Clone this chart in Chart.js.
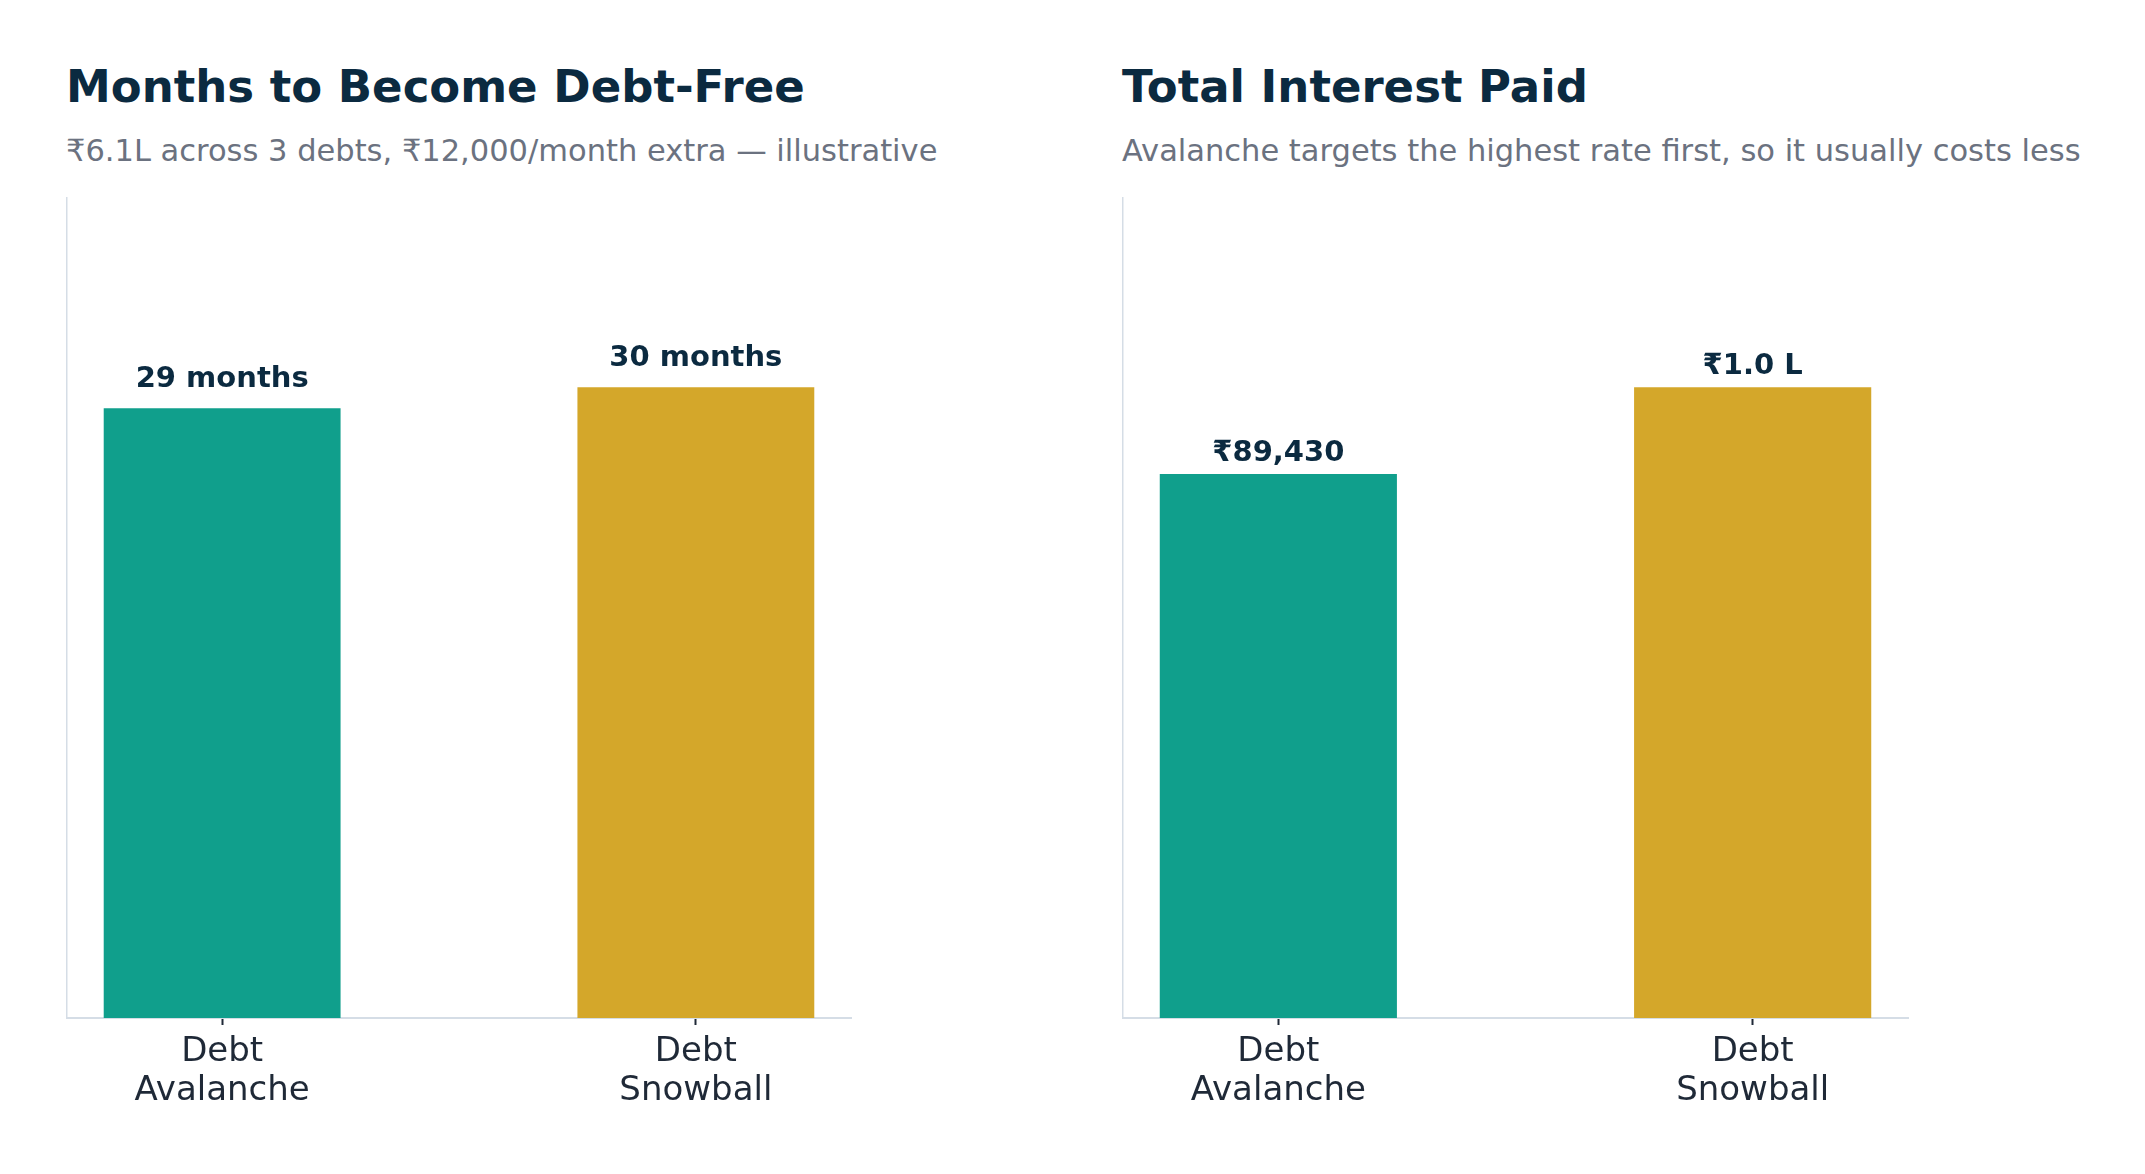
<!DOCTYPE html>
<html>
<head>
<meta charset="utf-8">
<script src="https://cdn.jsdelivr.net/npm/chart.js@4.4.1/dist/chart.umd.min.js"></script>
<style>
  html, body { margin: 0; padding: 0; background: #ffffff; }
  body { width: 2145px; height: 1174px; position: relative; overflow: hidden; font-family: "DejaVu Sans", sans-serif; }
  .title { position: absolute; font-size: 45px; font-weight: bold; line-height: 45px; color: #0b2a40; white-space: nowrap; }
  .sub { position: absolute; font-size: 30.5px; line-height: 30.5px; color: #6b7280; white-space: nowrap; }
  .box { position: absolute; top: 190px; height: 984px; }
</style>
</head>
<body>
<div class="title" style="left:66px; top:64px;">Months to Become Debt-Free</div>
<div class="sub" style="left:66px; top:136px;">₹6.1L across 3 debts, ₹12,000/month extra — illustrative</div>
<div class="title" style="left:1122px; top:64px;">Total Interest Paid</div>
<div class="sub" style="left:1122px; top:136px;">Avalanche targets the highest rate first, so it usually costs less</div>

<div class="box" style="left:66px; width:786px;"><canvas id="monthsChart"></canvas></div>
<div class="box" style="left:1122px; width:787px;"><canvas id="interestChart"></canvas></div>

<script>
// data
const categories = [['Debt', 'Avalanche'], ['Debt', 'Snowball']];
const monthsToFree = [29, 30];
const interestPaid = [89430, 103700];
const barColors = ['#109f8c', '#d4a72a'];

function monthsLabel(v) {
  return v + ' months';
}

function rupeeLabel(v) {
  if (v >= 100000) return '₹' + (v / 100000).toFixed(1) + ' L';
  return '₹' + v.toLocaleString('en-IN');
}

// draws the value above each bar
const valueLabels = {
  id: 'valueLabels',
  afterDatasetsDraw(chart, args, opts) {
    const ctx = chart.ctx;
    const meta = chart.getDatasetMeta(0);
    const values = chart.data.datasets[0].data;
    ctx.save();
    ctx.font = 'bold 29px "DejaVu Sans"';
    ctx.fillStyle = '#0b2a40';
    ctx.textAlign = 'center';
    ctx.textBaseline = 'alphabetic';
    meta.data.forEach(function (bar, i) {
      ctx.fillText(opts.format(values[i].y), bar.x, bar.y - opts.gap);
    });
    ctx.restore();
  }
};

function makeChart(id, values, fmt, gap) {
  const ctx = document.getElementById(id).getContext('2d');
  return new Chart(ctx, {
    type: 'bar',
    data: {
      datasets: [{
        data: values.map(function (v, i) { return { x: i, y: v }; }),
        backgroundColor: barColors,
        borderWidth: 0,
        barPercentage: 0.5,
        categoryPercentage: 1
      }]
    },
    options: {
      responsive: true,
      maintainAspectRatio: false,
      animation: false,
      layout: { padding: { left: 1, right: 1, top: 8, bottom: 0 } },
      plugins: {
        legend: { display: false },
        tooltip: { enabled: false },
        valueLabels: { format: fmt, gap: gap }
      },
      scales: {
        x: {
          type: 'linear',
          offset: false,
          min: -0.3275,
          max: 1.3275,
          afterBuildTicks: function (scale) {
            scale.ticks = categories.map(function (c, i) { return { value: i }; });
          },
          afterFit: function (scale) { scale.height = 156; },
          grid: { display: true, drawOnChartArea: false, drawTicks: true, tickLength: 7, tickColor: '#1f2937', tickWidth: 2, offset: false },
          border: { display: true, color: '#d5dde6', width: 2 },
          ticks: {
            padding: 8,
            autoSkip: false,
            maxRotation: 0,
            color: '#1f2937',
            font: { family: '"DejaVu Sans"', size: 34, lineHeight: 1.15 },
            callback: function (value) { return categories[value]; }
          }
        },
        y: {
          min: 0,
          max: Math.max.apply(null, values) * 1.3,
          afterFit: function (scale) { scale.width = 0; },
          grid: { display: false },
          border: { display: true, color: '#d5dde6', width: 1.5 },
          ticks: { display: false }
        }
      }
    },
    plugins: [valueLabels]
  });
}

makeChart('monthsChart', monthsToFree, monthsLabel, 21);
makeChart('interestChart', interestPaid, rupeeLabel, 13);
</script>
</body>
</html>
